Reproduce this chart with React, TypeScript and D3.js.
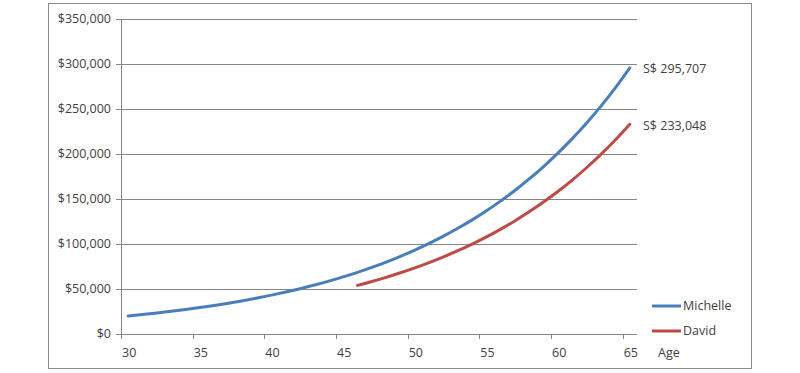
import React, { useRef, useEffect } from "react";
import * as d3 from "d3";

// ages on the category axis
const ages: number[] = d3.range(30, 66);
const tickAges: number[] = [30, 35, 40, 45, 50, 55, 60, 65];
const yTicks: number[] = [0, 50000, 100000, 150000, 200000, 250000, 300000, 350000];

// Michelle: age 30..65
const michelle: number[] = [
  20000, 21600, 23328, 25194, 27210, 29387, 31737, 34276, 37019, 39980,
  43178, 46633, 50363, 54392, 58744, 63443, 68519, 74000, 79920, 86314,
  93219, 100677, 108731, 117429, 126824, 136970, 147927, 159761, 172542, 186345,
  201253, 217353, 234742, 253521, 273803, 295707,
];
// David: age 46..65
const davidAges: number[] = d3.range(46, 66);
const david: number[] = [
  54000, 58320, 62986, 68024, 73466, 79344, 85691, 92547, 99950, 107946,
  116582, 125909, 135981, 146860, 158608, 171297, 185001, 199801, 215785, 233048,
];

const series = [
  { name: "Michelle", color: "#4A7EBB", ages: ages, values: michelle, label: "S$ 295,707" },
  { name: "David", color: "#BE4B48", ages: davidAges, values: david, label: "S$ 233,048" },
];

const FONT = "'Open Sans', 'Noto Sans', sans-serif";
const TEXT = "#404040";
const FS = 12.5;

export default function App() {
  const ref = useRef<SVGSVGElement>(null);

  useEffect(() => {
    const svg = d3.select(ref.current);
    svg.selectAll("*").remove();

    const left = 121, right = 637, top = 19, bottom = 334;

    const x = d3.scaleBand<number>().domain(ages).range([left, right]).padding(0);
    const cx = (a: number) => (x(a) as number) + x.bandwidth() / 2;
    const y = d3.scaleLinear().domain([0, 350000]).range([bottom, top]);

    // outer frame
    svg.append("rect")
      .attr("x", 48.5).attr("y", 3.5)
      .attr("width", 703).attr("height", 365)
      .attr("fill", "#fff").attr("stroke", "#8c8c8c").attr("stroke-width", 1);

    // gridlines
    svg.append("g")
      .selectAll("line")
      .data(yTicks.filter(d => d > 0))
      .join("line")
      .attr("x1", left).attr("x2", right)
      .attr("y1", d => Math.round(y(d)) + 0.5).attr("y2", d => Math.round(y(d)) + 0.5)
      .attr("stroke", "#868686");

    // y axis
    const yAxis = svg.append("g");
    yAxis.append("line")
      .attr("x1", left + 0.5).attr("x2", left + 0.5)
      .attr("y1", top).attr("y2", bottom)
      .attr("stroke", "#868686");
    yAxis.selectAll("line.tk")
      .data(yTicks)
      .join("line")
      .attr("class", "tk")
      .attr("x1", left - 5).attr("x2", left)
      .attr("y1", d => Math.round(y(d)) + 0.5).attr("y2", d => Math.round(y(d)) + 0.5)
      .attr("stroke", "#868686");
    yAxis.selectAll("text")
      .data(yTicks)
      .join("text")
      .attr("x", 111).attr("y", d => y(d))
      .attr("dy", "0.35em")
      .attr("text-anchor", "end")
      .attr("font-family", FONT).attr("font-size", FS).attr("fill", TEXT)
      .text(d => d3.format("$,")(d));

    // x axis
    const xAxis = svg.append("g");
    xAxis.append("line")
      .attr("x1", left).attr("x2", right)
      .attr("y1", bottom + 0.5).attr("y2", bottom + 0.5)
      .attr("stroke", "#868686");
    xAxis.selectAll("line.tk")
      .data(tickAges)
      .join("line")
      .attr("class", "tk")
      .attr("x1", d => Math.round(x(d) as number) + 0.5).attr("x2", d => Math.round(x(d) as number) + 0.5)
      .attr("y1", bottom).attr("y2", bottom + 5)
      .attr("stroke", "#868686");
    xAxis.selectAll("text")
      .data(tickAges)
      .join("text")
      .attr("x", d => cx(d) + 1).attr("y", 353)
      .attr("dy", "0.35em")
      .attr("text-anchor", "middle")
      .attr("font-family", FONT).attr("font-size", FS).attr("fill", TEXT)
      .text(d => d);
    xAxis.append("text")
      .attr("x", 658).attr("y", 353).attr("dy", "0.35em")
      .attr("font-family", FONT).attr("font-size", FS).attr("fill", TEXT)
      .text("Age");

    // lines
    series.forEach(s => {
      const pts = s.ages.map((a, i) => [cx(a), y(s.values[i])] as [number, number]);
      svg.append("path")
        .attr("d", d3.line().curve(d3.curveMonotoneX)(pts))
        .attr("fill", "none")
        .attr("stroke", s.color)
        .attr("stroke-width", 3)
        .attr("stroke-linecap", "round");
      const last = s.ages.length - 1;
      svg.append("text")
        .attr("x", 643).attr("y", y(s.values[last]) + 1)
        .attr("dy", "0.35em")
        .attr("font-family", FONT).attr("font-size", FS).attr("fill", TEXT)
        .text(s.label);
    });

    // legend
    const lg = svg.append("g");
    series.forEach((s, i) => {
      const ly = 306 + i * 25;
      lg.append("line")
        .attr("x1", 652).attr("x2", 681)
        .attr("y1", ly).attr("y2", ly)
        .attr("stroke", s.color).attr("stroke-width", 3);
      lg.append("text")
        .attr("x", 683).attr("y", ly).attr("dy", "0.35em")
        .attr("font-family", FONT).attr("font-size", FS).attr("fill", TEXT)
        .text(s.name);
    });
  }, []);

  return (
    <svg
      ref={ref}
      width={800}
      height={373}
      style={{ position: "absolute", left: 0, top: 0, background: "#fff" }}
    />
  );
}
